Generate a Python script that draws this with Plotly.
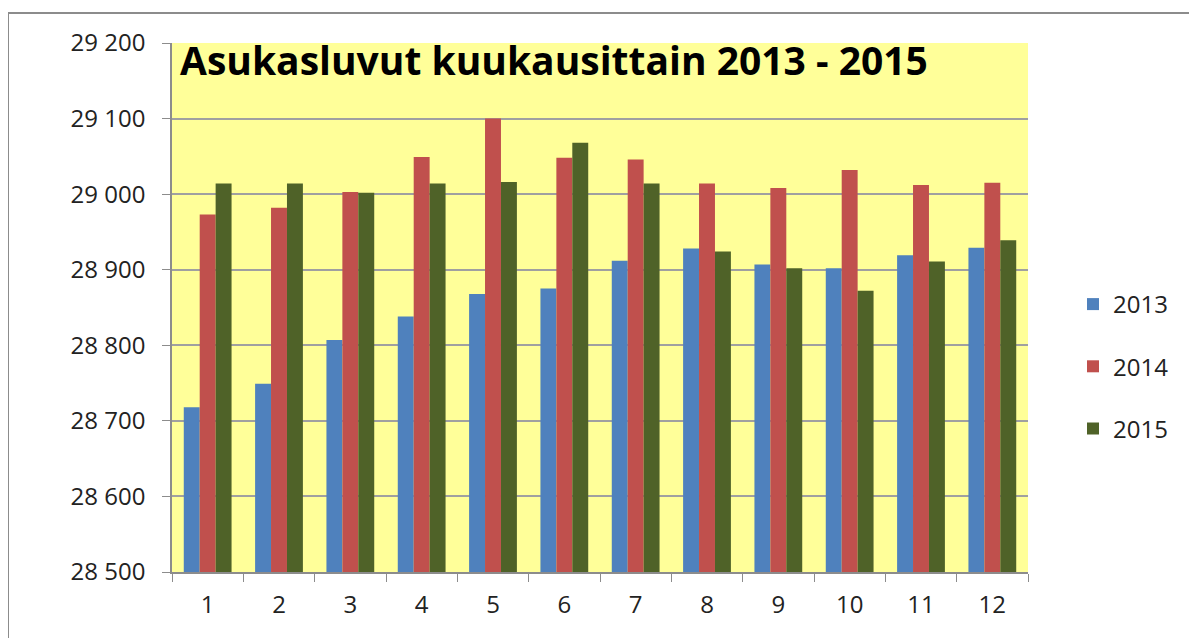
import plotly.graph_objects as go

months = list(range(1, 13))
month_labels = [str(m) for m in months]
v2013 = [28718, 28749, 28807, 28838, 28868, 28875, 28912, 28928, 28907, 28902, 28919, 28929]
v2014 = [28973, 28982, 29003, 29049, 29100, 29048, 29046, 29014, 29008, 29032, 29012, 29015]
v2015 = [29014, 29014, 29002, 29014, 29016, 29068, 29014, 28924, 28902, 28872, 28911, 28939]
series_names = ["2013", "2014", "2015"]
colors = ["#4F81BD", "#C0504D", "#4F6228"]
title_text = "Asukasluvut kuukausittain 2013 - 2015"

BASE = 28500
fig = go.Figure()
for name, vals, col in zip(series_names, [v2013, v2014, v2015], colors):
    fig.add_trace(go.Bar(
        x=months, y=[v - BASE for v in vals], base=BASE, name=name,
        marker=dict(color=col, line=dict(width=0)),
        legendgroup=name,
    ))

# page body has an 8px margin; figure coords = screen - 8
W, H = 1189, 630
L, T = 164, 35
plot_right, plot_bottom = 1020, 564
R, B = W - plot_right, H - plot_bottom
pw, ph = plot_right - L, plot_bottom - T


def px_x(x):
    return (x - L) / pw


def px_y(y):
    return (plot_bottom - y) / ph


fig.update_layout(
    width=W, height=H,
    margin=dict(l=L, r=R, t=T, b=B, autoexpand=False),
    paper_bgcolor="white",
    plot_bgcolor="#FFFF99",
    barmode="group",
    bargap=0.33,
    bargroupgap=0,
    separators=", ",
    font=dict(family="Open Sans", size=23, color="#222222"),
    legend=dict(
        x=px_x(1065), y=px_y(274), xanchor="left", yanchor="top",
        font=dict(size=24), tracegroupgap=28, bgcolor="rgba(0,0,0,0)",
        itemwidth=30,
    ),
    xaxis=dict(
        range=[0.5, 12.5], tickvals=months, ticktext=month_labels,
        ticks="", showgrid=False, showline=True, linecolor="#8c8c8c", linewidth=1.5,
        minor=dict(tick0=0.5, dtick=1, ticks="outside", ticklen=8, tickcolor="#8c8c8c", showgrid=False),
        tickfont=dict(size=24), ticklabelstandoff=10, fixedrange=True,
    ),
    yaxis=dict(
        range=[28500, 29200], dtick=100, tickformat=",d",
        showgrid=True, gridcolor="#a0a0a0", gridwidth=1.5,
        showline=True, linecolor="#8c8c8c", linewidth=1.5,
        ticks="outside", ticklen=8, tickcolor="#8c8c8c",
        tickfont=dict(size=24), ticklabelstandoff=12, zeroline=False, fixedrange=True,
    ),
    showlegend=True,
)

fig.add_annotation(
    text="<b>" + title_text + "</b>", xref="paper", yref="paper",
    x=px_x(170), y=px_y(52), xanchor="left", yanchor="middle",
    showarrow=False, font=dict(family="Open Sans", size=39, color="black"),
)

fig.add_shape(
    type="rect", xref="paper", yref="paper",
    x0=px_x(0), x1=px_x(1182), y0=px_y(640), y1=px_y(5),
    line=dict(color="#8c8c8c", width=2), fillcolor="rgba(0,0,0,0)", layer="below",
)

fig.write_html("out.html")
